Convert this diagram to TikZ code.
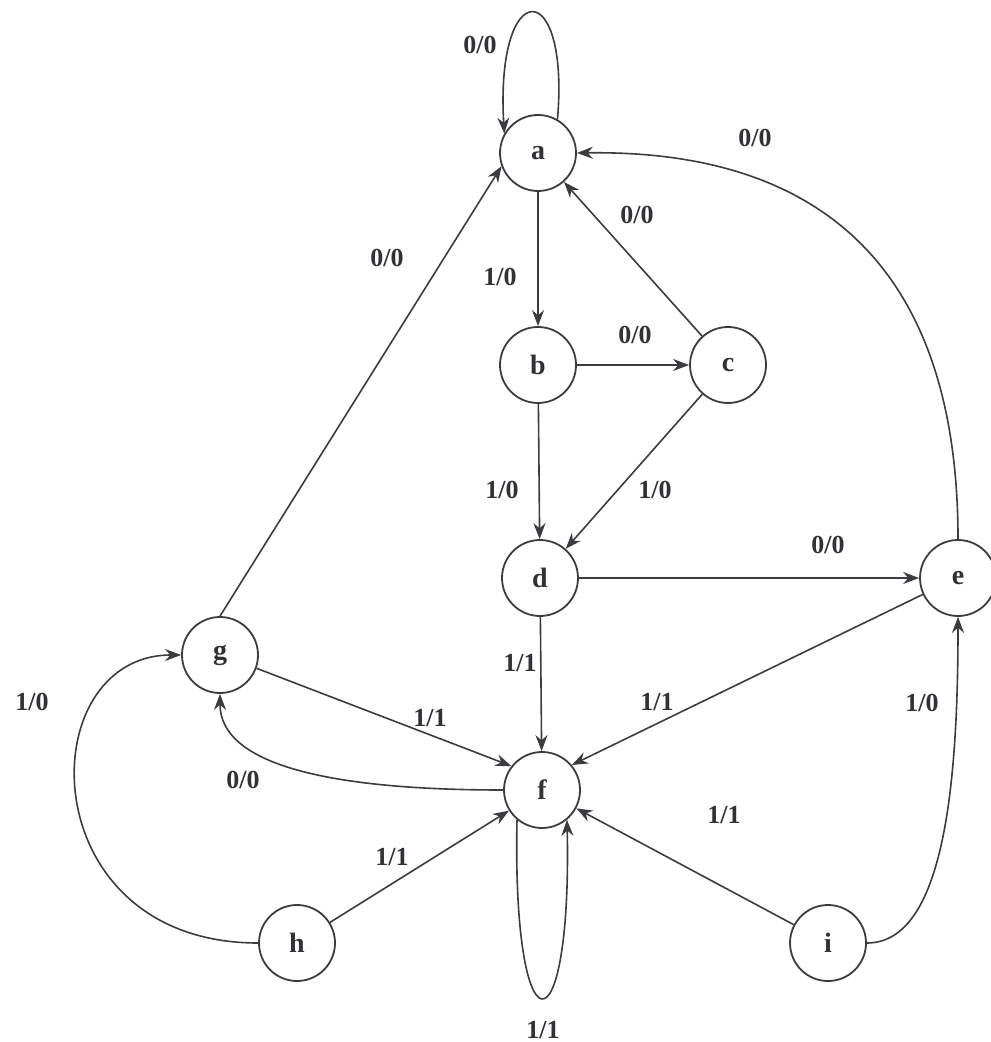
\documentclass[tikz,border=0pt]{standalone}
\usepackage{fontspec}
\setmainfont{Liberation Serif}
\usetikzlibrary{arrows.meta}
\definecolor{linec}{RGB}{60,60,64}
\definecolor{textc}{RGB}{50,50,54}
\begin{document}
\begin{tikzpicture}[x=0.5pt,y=-0.5pt,
  state/.style={circle,draw=linec,line width=0.9pt,minimum size=38pt,inner sep=0pt,
    font=\fontsize{14}{16}\selectfont\bfseries,text=textc},
  lbl/.style={font=\fontsize{13}{15}\selectfont\bfseries,text=textc,inner sep=0pt},
  tr/.style={draw=linec,line width=0.8pt,-{Stealth[length=8pt,width=6pt]}}]
\useasboundingbox (0,0) rectangle (990,1042);
% states
\node[state] (a) at (538,153) {a};
\node[state] (b) at (538,365) {b};
\node[state] (c) at (728,365) {c};
\node[state] (d) at (540,578) {d};
\node[state] (e) at (958,578) {e};
\node[state] (f) at (542,790) {f};
\node[state] (g) at (220,655) {g};
\node[state] (h) at (297,943) {h};
\node[state] (i) at (828,943) {i};
% transitions
\draw[tr] (a.60) .. controls (570,-25) and (495,-25) .. (a.150);
\draw[tr] (a) -- (b);
\draw[tr] (b) -- (c);
\draw[tr] (b) -- (d);
\draw[tr] (c) -- (a);
\draw[tr] (c) -- (d);
\draw[tr] (d) -- (e);
\draw[tr] (d) -- (f);
\draw[tr] (e.205) -- (f.40);
\draw[tr] (e.north) .. controls (958,230) and (780,150) .. (a.east);
\draw[tr] (g.north) -- (a.200);
\draw[tr] (g.-20) -- (f.142);
\draw[tr] (f.west) .. controls (330,790) and (220,765) .. (g.south);
\draw[tr] (h.west) .. controls (30,943) and (30,655) .. (g.west);
\draw[tr] (h) -- (f);
\draw[tr] (i) -- (f);
\draw[tr] (i.east) .. controls (945,943) and (958,780) .. (e.south);
\draw[tr] (f.-130) .. controls (512,1057) and (572,1057) .. (f.-50);
% labels
\node[lbl] (laa) at (480,45) {0/0};
\node[lbl] (lab) at (500,277) {1/0};
\node[lbl] (lga) at (387,258) {0/0};
\node[lbl] (lca) at (637,215) {0/0};
\node[lbl] (lea) at (755,138) {0/0};
\node[lbl] (lbc) at (635,335) {0/0};
\node[lbl] (lbd) at (502,490) {1/0};
\node[lbl] (lcd) at (655,490) {1/0};
\node[lbl] (lde) at (828,545) {0/0};
\node[lbl] (ldf) at (520,663) {1/1};
\node[lbl] (lgf) at (430,718) {1/1};
\node[lbl] (lef) at (657,702) {1/1};
\node[lbl] (lhg) at (32,702) {1/0};
\node[lbl] (lfg) at (243,780) {0/0};
\node[lbl] (lhf) at (392,857) {1/1};
\node[lbl] (lif) at (724,815) {1/1};
\node[lbl] (lie) at (922,703) {1/0};
\node[lbl] (lff) at (543,1030) {1/1};
\end{tikzpicture}
\end{document}
